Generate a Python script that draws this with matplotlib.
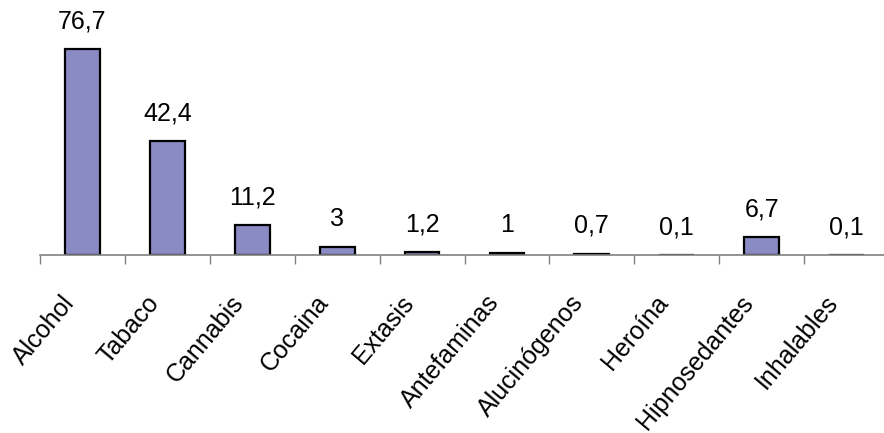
import matplotlib.pyplot as plt
import numpy as np
from matplotlib.transforms import offset_copy

plt.rcParams['font.family'] = ['Liberation Sans', 'DejaVu Sans']

sustancias = ['Alcohol', 'Tabaco', 'Cannabis', 'Cocaina', 'Extasis', 'Antefaminas',
              'Alucinógenos', 'Heroína', 'Hipnosedantes', 'Inhalables']
valores = [76.7, 42.4, 11.2, 3, 1.2, 1, 0.7, 0.1, 6.7, 0.1]

fig = plt.figure(figsize=(8.84, 4.33), dpi=100)
# axes runs a little past the right edge, as in the original layout
ax = fig.add_axes([40 / 884, 1 - 255.5 / 433, 849 / 884, 255.5 / 433])

x = np.arange(len(sustancias))
ax.bar(x, valores, width=0.41, color='#8a8ac4', edgecolor='black', linewidth=1.6, zorder=2)

for xi, v in zip(x, valores):
    txt = f'{v:g}'.replace('.', ',')
    ax.annotate(txt, (xi, v), xytext=(0, 11.5), textcoords='offset points',
                ha='center', va='bottom', fontsize=18)

ax.set_xlim(-0.5, len(sustancias) - 0.5)
ax.set_ylim(0, 94.9)

for side in ['top', 'right', 'left']:
    ax.spines[side].set_visible(False)
ax.spines['bottom'].set_color('#808080')
ax.spines['bottom'].set_linewidth(1.2)
ax.spines['bottom'].set_zorder(3)
ax.set_yticks([])

# tick marks between categories
ax.set_xticks(np.arange(len(sustancias) + 1) - 0.5)
ax.set_xticklabels([])
ax.tick_params(axis='x', which='major', length=6.3, width=1, color='#808080', direction='out')

# slanted category names, right end just left of the centre
lab_tr = offset_copy(ax.get_xaxis_transform(), fig=fig, x=-9, y=-31, units='points')
for xi, name in zip(x, sustancias):
    ax.text(xi, 0, name, transform=lab_tr, rotation=50, ha='right', va='center',
            rotation_mode='anchor', fontsize=18, clip_on=False)

fig.savefig('out.png', dpi=100)
